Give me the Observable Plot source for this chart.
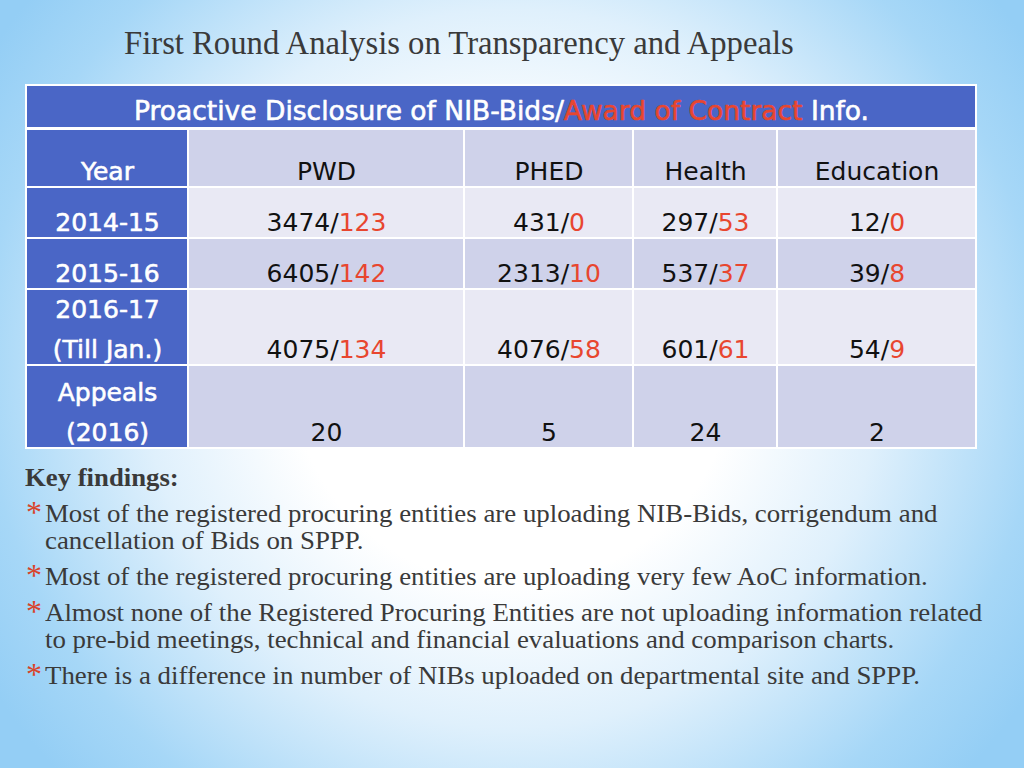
<!DOCTYPE html>
<html>
<head>
<meta charset="utf-8">
<script src="https://cdn.jsdelivr.net/npm/d3@7"></script>
<script src="https://cdn.jsdelivr.net/npm/@observablehq/plot@0.6"></script>
<style>
html, body { margin: 0; padding: 0; }
#slide {
  position: relative; width: 1024px; height: 768px; overflow: hidden;
  background: radial-gradient(ellipse 60% 78% at 50% 48%, #ffffff 0%, #ffffff 36%, #dff0fc 60%, #a6d7f7 86%, #94cef5 100%);
}
#title {
  position: absolute; left: 124px; top: 25px; white-space: nowrap;
  font-family: "Liberation Serif", serif; font-size: 33px; color: #3a3a3a;
  transform-origin: 0 0; transform: scaleX(0.99);
}
#table { position: absolute; left: 26px; top: 85px; }
#findings {
  position: absolute; left: 0; top: 464px; width: 1024px;
  font-family: "Liberation Serif", serif; color: #3a3a3a; white-space: nowrap;
}
#kf { position: relative; left: 25px; font-weight: bold; font-size: 24.3px; line-height: 27px;
  transform-origin: 0 50%; transform: scaleX(1.1); }
.item { position: relative; margin-top: 9px; font-size: 24.3px; line-height: 27px; }
.item .line { margin-left: 45px; transform-origin: 0 50%; transform: scaleX(1.105); }
.star { position: absolute; left: 26px; top: -4px; color: #d9432a; font-size: 32px; line-height: 32px; }
</style>
</head>
<body>
<div id="slide">
  <div id="title"></div>
  <div id="table"></div>
  <div id="findings"></div>
</div>
<script>
// ---------------- data ----------------
const slideTitle = "First Round Analysis on Transparency and Appeals";
const headerParts = ["Proactive Disclosure of NIB-Bids/", "Award of Contract", " Info."];
const headerPartRed = [false, true, false];
const firstColumnHeader = "Year";
const departments = ["PWD", "PHED", "Health", "Education"];
const yearLabels = [["2014-15"], ["2015-16"], ["2016-17", "(Till Jan.)"], ["Appeals", "(2016)"]];
const pwdNib = [3474, 6405, 4075];
const pwdAoc = [123, 142, 134];
const phedNib = [431, 2313, 4076];
const phedAoc = [0, 10, 58];
const healthNib = [297, 537, 601];
const healthAoc = [53, 37, 61];
const educationNib = [12, 39, 54];
const educationAoc = [0, 8, 9];
const appeals = [20, 5, 24, 2];
const findingsTitle = "Key findings:";
const findings = [
  ["Most of the registered procuring entities are uploading NIB-Bids, corrigendum and", "cancellation of Bids on SPPP."],
  ["Most of the registered procuring entities are uploading very few AoC information."],
  ["Almost none of the Registered Procuring Entities are not uploading information related", "to pre-bid meetings, technical and financial evaluations and comparison charts."],
  ["There is a difference in number of NIBs uploaded on departmental site and SPPP."]
];

// ---------------- layout / style ----------------
const W = 951, H = 364;
const colEdges = [0, 162, 438, 607, 751, 950];
const headerBand = [0, 43];
const rowEdges = [44, 102, 153, 204, 280, 363];
const BLUE = "#4a66c6", DARK = "#cfd2ea", LIGHT = "#e9e9f4", RED = "#e8462f", BLACK = "#111111", WHITE = "#ffffff";
const FONT = "DejaVu Sans";
const CELL_SIZE = 25, HEAD_SIZE = 26.5;
const LINE_GAP = 40, BOTTOM_PAD = 16;

const ctx = document.createElement("canvas").getContext("2d");
const textWidth = (s, size) => { ctx.font = `${size}px "${FONT}"`; return ctx.measureText(s).width; };

const nibs = [pwdNib, phedNib, healthNib, educationNib];
const aocs = [pwdAoc, phedAoc, healthAoc, educationAoc];

// ---------------- cells ----------------
const cells = [{x1: colEdges[0], x2: colEdges[5], y1: headerBand[0], y2: headerBand[1], fill: BLUE}];
for (let r = 0; r < rowEdges.length - 1; r++) {
  for (let c = 0; c < colEdges.length - 1; c++) {
    cells.push({
      x1: colEdges[c], x2: colEdges[c + 1], y1: rowEdges[r], y2: rowEdges[r + 1],
      fill: c === 0 ? BLUE : (r % 2 === 0 ? DARK : LIGHT)
    });
  }
}

// ---------------- texts ----------------
const texts = []; // {x, y, text, color, anchor, size, bold}
{
  const total = headerParts.reduce((s, p) => s + textWidth(p, HEAD_SIZE), 0);
  let x = (colEdges[0] + colEdges[5]) / 2 - total / 2;
  const y = headerBand[1] - BOTTOM_PAD - 1;
  headerParts.forEach((p, i) => {
    const lead = p.length - p.trimStart().length;
    const leadW = lead ? textWidth(p.slice(0, lead), HEAD_SIZE) : 0;
    texts.push({x: x + leadW, y, text: p.trim(), color: headerPartRed[i] ? RED : WHITE, anchor: "start", size: HEAD_SIZE, bold: true});
    x += textWidth(p, HEAD_SIZE);
  });
}
const colCenter = c => (colEdges[c] + colEdges[c + 1]) / 2;
const rowText = r => rowEdges[r + 1] - BOTTOM_PAD;
texts.push({x: colCenter(0), y: rowText(0), text: firstColumnHeader, color: WHITE, anchor: "middle", size: CELL_SIZE, bold: true});
departments.forEach((d, i) => texts.push({x: colCenter(i + 1), y: rowText(0), text: d, color: BLACK, anchor: "middle", size: CELL_SIZE, bold: false}));
yearLabels.forEach((lines, r) => {
  lines.forEach((line, k) => {
    texts.push({x: colCenter(0), y: rowText(r + 1) - (lines.length - 1 - k) * LINE_GAP, text: line, color: WHITE, anchor: "middle", size: CELL_SIZE, bold: true});
  });
});
for (let r = 0; r < 3; r++) {
  departments.forEach((d, i) => {
    const black = `${nibs[i][r]}/`, red = `${aocs[i][r]}`;
    const split = colCenter(i + 1) + (textWidth(black, CELL_SIZE) - textWidth(red, CELL_SIZE)) / 2;
    texts.push({x: split, y: rowText(r + 1), text: black, color: BLACK, anchor: "end", size: CELL_SIZE, bold: false});
    texts.push({x: split, y: rowText(r + 1), text: red, color: RED, anchor: "start", size: CELL_SIZE, bold: false});
  });
}
appeals.forEach((v, i) => texts.push({x: colCenter(i + 1), y: rowText(4), text: String(v), color: BLACK, anchor: "middle", size: CELL_SIZE, bold: false}));

const textMark = (anchor, bold) => Plot.text(texts.filter(t => t.anchor === anchor && t.bold === bold), {
  x: "x", y: "y", text: "text", fill: "color", fontSize: "size",
  textAnchor: anchor, fontFamily: FONT,
  ...(bold ? {stroke: "color", strokeWidth: 0.6} : {})
});

const chart = Plot.plot({
  width: W, height: H, margin: 0,
  x: {type: "linear", domain: [0, W], range: [0, W], axis: null},
  y: {type: "linear", domain: [0, H], range: [0, H], axis: null},
  color: {type: "identity"},
  style: {background: "transparent", overflow: "visible"},
  marks: [
    Plot.rect([{x1: colEdges[0], x2: colEdges[5], y1: headerBand[0], y2: rowEdges[rowEdges.length - 1]}],
      {x1: "x1", x2: "x2", y1: "y1", y2: "y2", fill: WHITE, inset: -1}),
    Plot.rect(cells, {x1: "x1", x2: "x2", y1: "y1", y2: "y2", fill: "fill", inset: 1}),
    textMark("middle", false), textMark("middle", true),
    textMark("start", false), textMark("start", true),
    textMark("end", false), textMark("end", true)
  ]
});
document.getElementById("table").appendChild(chart);

// ---------------- html text ----------------
document.getElementById("title").textContent = slideTitle;
const fDiv = document.getElementById("findings");
const kf = document.createElement("div");
kf.id = "kf"; kf.textContent = findingsTitle;
fDiv.appendChild(kf);
findings.forEach(lines => {
  const item = document.createElement("div");
  item.className = "item";
  const star = document.createElement("span");
  star.className = "star"; star.textContent = "*";
  item.appendChild(star);
  lines.forEach(l => { const d = document.createElement("div"); d.className = "line"; d.textContent = l; item.appendChild(d); });
  fDiv.appendChild(item);
});
</script>
</body>
</html>
